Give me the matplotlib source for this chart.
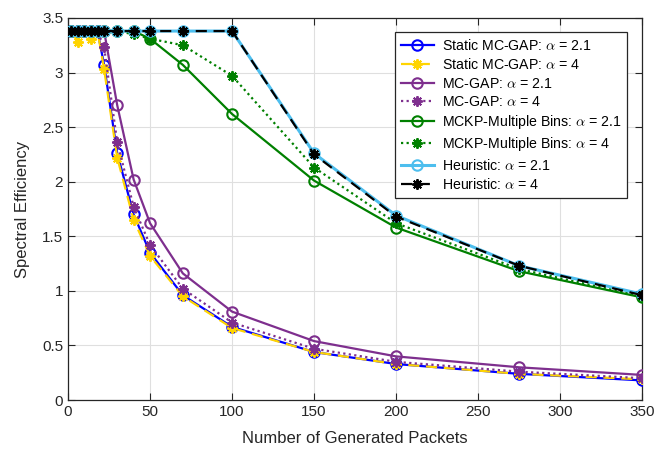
import matplotlib
matplotlib.use("Agg")
import matplotlib.pyplot as plt

plt.rcParams['font.family'] = ['Liberation Sans', 'DejaVu Sans']
plt.rcParams['mathtext.fontset'] = 'cm'

x = [2, 6, 10, 14, 18, 22, 30, 40, 50, 70, 100, 150, 200, 275, 350]

static_21 = [3.38, 3.38, 3.38, 3.38, 3.38, 3.07, 2.26, 1.70, 1.35, 0.96, 0.67, 0.44, 0.33, 0.24, 0.18]
static_4 = [3.38, 3.28, 3.38, 3.31, 3.38, 3.03, 2.22, 1.65, 1.32, 0.95, 0.66, 0.44, 0.33, 0.24, 0.19]
mcgap_21 = [3.38, 3.38, 3.38, 3.38, 3.38, 3.38, 2.70, 2.02, 1.62, 1.16, 0.81, 0.54, 0.40, 0.30, 0.23]
mcgap_4 = [3.38, 3.38, 3.38, 3.38, 3.38, 3.23, 2.36, 1.77, 1.42, 1.02, 0.71, 0.47, 0.35, 0.26, 0.20]
mckp_21 = [3.38, 3.38, 3.38, 3.38, 3.38, 3.38, 3.38, 3.38, 3.31, 3.07, 2.62, 2.01, 1.58, 1.18, 0.94]
mckp_4 = [3.38, 3.38, 3.38, 3.38, 3.38, 3.38, 3.38, 3.35, 3.31, 3.25, 2.97, 2.13, 1.62, 1.20, 0.95]
heur_21 = [3.38, 3.38, 3.38, 3.38, 3.38, 3.38, 3.38, 3.38, 3.38, 3.38, 3.38, 2.26, 1.69, 1.23, 0.97]
heur_4 = [3.38, 3.38, 3.38, 3.38, 3.38, 3.38, 3.38, 3.38, 3.38, 3.38, 3.38, 2.25, 1.68, 1.23, 0.96]

labels = [
    r'Static MC-GAP: $\alpha$ = 2.1',
    r'Static MC-GAP: $\alpha$ = 4',
    r'MC-GAP: $\alpha$ = 2.1',
    r'MC-GAP: $\alpha$ = 4',
    r'MCKP-Multiple Bins: $\alpha$ = 2.1',
    r'MCKP-Multiple Bins: $\alpha$ = 4',
    r'Heuristic: $\alpha$ = 2.1',
    r'Heuristic: $\alpha$ = 4',
]

fig = plt.figure(figsize=(6.54, 4.49), dpi=100)
ax = fig.add_axes([0.104, 0.109, 0.878, 0.851])

lw = 1.6
ms = 7.5
star = (8, 2, 0)
purple = '#7E2F8E'
green = '#008000'
gold = '#FFD400'
cyan = '#4DBEEE'

ax.plot(x, static_21, color='#0000FF', ls='-', lw=lw, marker='o', ms=ms, mfc='none', mew=1.5, label=labels[0], zorder=3)
ax.plot(x, static_4, color=gold, ls=(0, (5, 3)), lw=lw, marker=star, ms=ms, mew=1.4, label=labels[1], zorder=3)
ax.plot(x, mcgap_21, color=purple, ls='-', lw=lw, marker='o', ms=ms, mfc='none', mew=1.5, label=labels[2], zorder=3)
ax.plot(x, mcgap_4, color=purple, ls=(0, (1, 1.5)), lw=lw, marker=star, ms=ms, mew=1.4, label=labels[3], zorder=3)
ax.plot(x, mckp_21, color=green, ls='-', lw=lw, marker='o', ms=ms, mfc='none', mew=1.5, label=labels[4], zorder=3)
ax.plot(x, mckp_4, color=green, ls=(0, (1, 1.5)), lw=lw, marker=star, ms=ms, mew=1.4, label=labels[5], zorder=3)
ax.plot(x, heur_21, color=cyan, ls='-', lw=lw+0.6, marker='o', ms=ms, mfc='none', mew=1.5, label=labels[6], zorder=3)
ax.plot(x, heur_4, color='black', ls=(0, (5, 3)), lw=lw, marker=star, ms=ms, mew=1.4, label=labels[7], zorder=4)

ax.set_xlim(0, 350)
ax.set_ylim(0, 3.5)
ax.set_xticks(range(0, 351, 50))
ax.set_yticks([0, 0.5, 1, 1.5, 2, 2.5, 3, 3.5])
ax.set_yticklabels(['0', '0.5', '1', '1.5', '2', '2.5', '3', '3.5'])
ax.grid(True, color='#DFDFDF', lw=0.8)
ax.set_axisbelow(True)
ax.tick_params(direction='in', top=True, right=True, labelsize=11, colors='#262626', length=5)
for s in ax.spines.values():
    s.set_color('#262626')
    s.set_linewidth(0.9)

ax.set_xlabel('Number of Generated Packets', fontsize=12, color='#262626', labelpad=9)
ax.set_ylabel('Spectral Efficiency', fontsize=12, color='#262626', labelpad=9)

leg = ax.legend(loc='upper right', bbox_to_anchor=(0.974, 0.962), fontsize=10.2,
                frameon=True, fancybox=False, edgecolor='#262626', framealpha=1,
                handlelength=2.3, handletextpad=0.6, labelspacing=0.3,
                borderpad=0.4, borderaxespad=0)
leg.get_frame().set_linewidth(0.9)

fig.savefig('out.png', dpi=100)
